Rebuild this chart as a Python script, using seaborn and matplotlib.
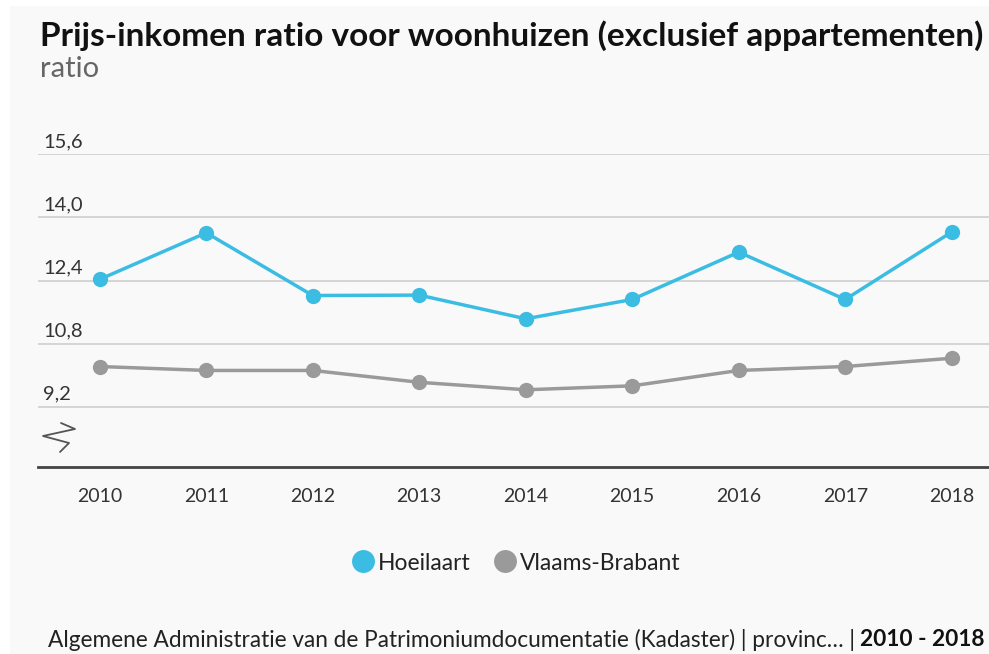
import matplotlib

matplotlib.use("Agg")
import matplotlib.pyplot as plt
import matplotlib.transforms as mtransforms
from matplotlib.patches import Rectangle
from matplotlib.lines import Line2D
import pandas as pd
import seaborn as sns

years = [2010, 2011, 2012, 2013, 2014, 2015, 2016, 2017, 2018]
hoeilaart = [12.43, 13.61, 12.02, 12.03, 11.43, 11.92, 13.12, 11.92, 13.63]
vlaams_brabant = [10.22, 10.12, 10.12, 9.82, 9.63, 9.73, 10.12, 10.22, 10.43]
series_names = ["Hoeilaart", "Vlaams-Brabant"]
series_colors = ["#3bbde3", "#9a9a9a"]
y_ticks = [9.2, 10.8, 12.4, 14.0, 15.6]

title = "Prijs-inkomen ratio voor woonhuizen (exclusief appartementen)"
subtitle = "ratio"
source = "Algemene Administratie van de Patrimoniumdocumentatie (Kadaster) | provinc… | "
period = "2010 - 2018"

df = pd.DataFrame({
    "jaar": years * 2,
    "waarde": hoeilaart + vlaams_brabant,
    "reeks": [series_names[0]] * len(years) + [series_names[1]] * len(years),
})

sns.set_theme(style="white")
plt.rcParams["font.family"] = ["Lato", "DejaVu Sans"]

W, H = 989, 654
fig = plt.figure(figsize=(W / 100, H / 100), dpi=100)
fig.patch.set_facecolor("white")
fig.patches.append(Rectangle((10 / W, 0), 1, 1 - 6 / H, transform=fig.transFigure,
                             facecolor="#f9f9f9", edgecolor="none", zorder=-10))

ax_left, ax_bottom_px, ax_top_px = 38, 466.7, 154.3
ax = fig.add_axes([ax_left / W, 1 - ax_bottom_px / H, 1 - ax_left / W,
                   (ax_bottom_px - ax_top_px) / H])
ax.set_facecolor("none")

sns.lineplot(
    data=df, x="jaar", y="waarde", hue="reeks",
    palette=dict(zip(series_names, series_colors)),
    marker="o", markersize=11, markeredgewidth=0, linewidth=2.5,
    legend=False, ax=ax, zorder=3,
)

ymin, ymax = 7.68, 15.6
ax.set_ylim(ymin, ymax)
ax.set_xlim(years[0] - 0.58, years[-1] + 0.35)
ax.set_xticks(years)
ax.set_xticklabels([str(y) for y in years], fontsize=14, color="#333333")
ax.tick_params(axis="x", length=0, pad=15)
ax.set_yticks([])
ax.set_xlabel("")
ax.set_ylabel("")
for side in ["top", "left", "right"]:
    ax.spines[side].set_visible(False)
ax.spines["bottom"].set_color("#444444")
ax.spines["bottom"].set_linewidth(2)

trans = mtransforms.blended_transform_factory(ax.transAxes, ax.transData)
for t in y_ticks:
    ax.axhline(t, color="#d2d2d2", linewidth=1.3, zorder=1)
    ax.text(5 / (W - ax_left), t + 0.18, f"{t:.1f}".replace(".", ","), transform=trans,
            fontsize=14.5, color="#333333", ha="left", va="baseline")


# axis break symbol, given in pixels of the figure
def px_to_axes(px, py):
    return (px - ax_left) / (W - ax_left), ymax - (py - ax_top_px) * (ymax - ymin) / (ax_bottom_px - ax_top_px)


brk = [px_to_axes(*p) for p in [(61, 423), (75, 429), (43, 436), (69, 443), (60, 452)]]
ax.plot([p[0] for p in brk], [p[1] for p in brk], transform=trans,
        color="#555555", linewidth=1.3, clip_on=False)

fig.text(40 / W, 1 - 36 / H, title, fontsize=24, fontweight="bold",
         color="#111111", ha="left", va="center")
fig.text(40 / W, 1 - 69 / H, subtitle, fontsize=21, color="#666666",
         ha="left", va="center")

handles = [Line2D([], [], marker="o", linestyle="", markersize=16.5,
                  markerfacecolor=c, markeredgewidth=0) for c in series_colors]
fig.legend(handles, series_names, loc="center", bbox_to_anchor=(515 / W, 1 - 563 / H),
           ncol=2, frameon=False, fontsize=16.5, handletextpad=0.05, handlelength=1.2,
           columnspacing=0.9, labelcolor="#222222")

src = fig.text(985 / W, 1 - 640 / H, period, fontsize=16.3, fontweight="bold",
               color="#111111", ha="right", va="center")
fig.canvas.draw()
bb = src.get_window_extent()
fig.text(bb.x0 / fig.bbox.width, 1 - 640 / H, source, fontsize=16.3,
         color="#222222", ha="right", va="center")

fig.savefig("out.png", dpi=100, facecolor=fig.get_facecolor())
